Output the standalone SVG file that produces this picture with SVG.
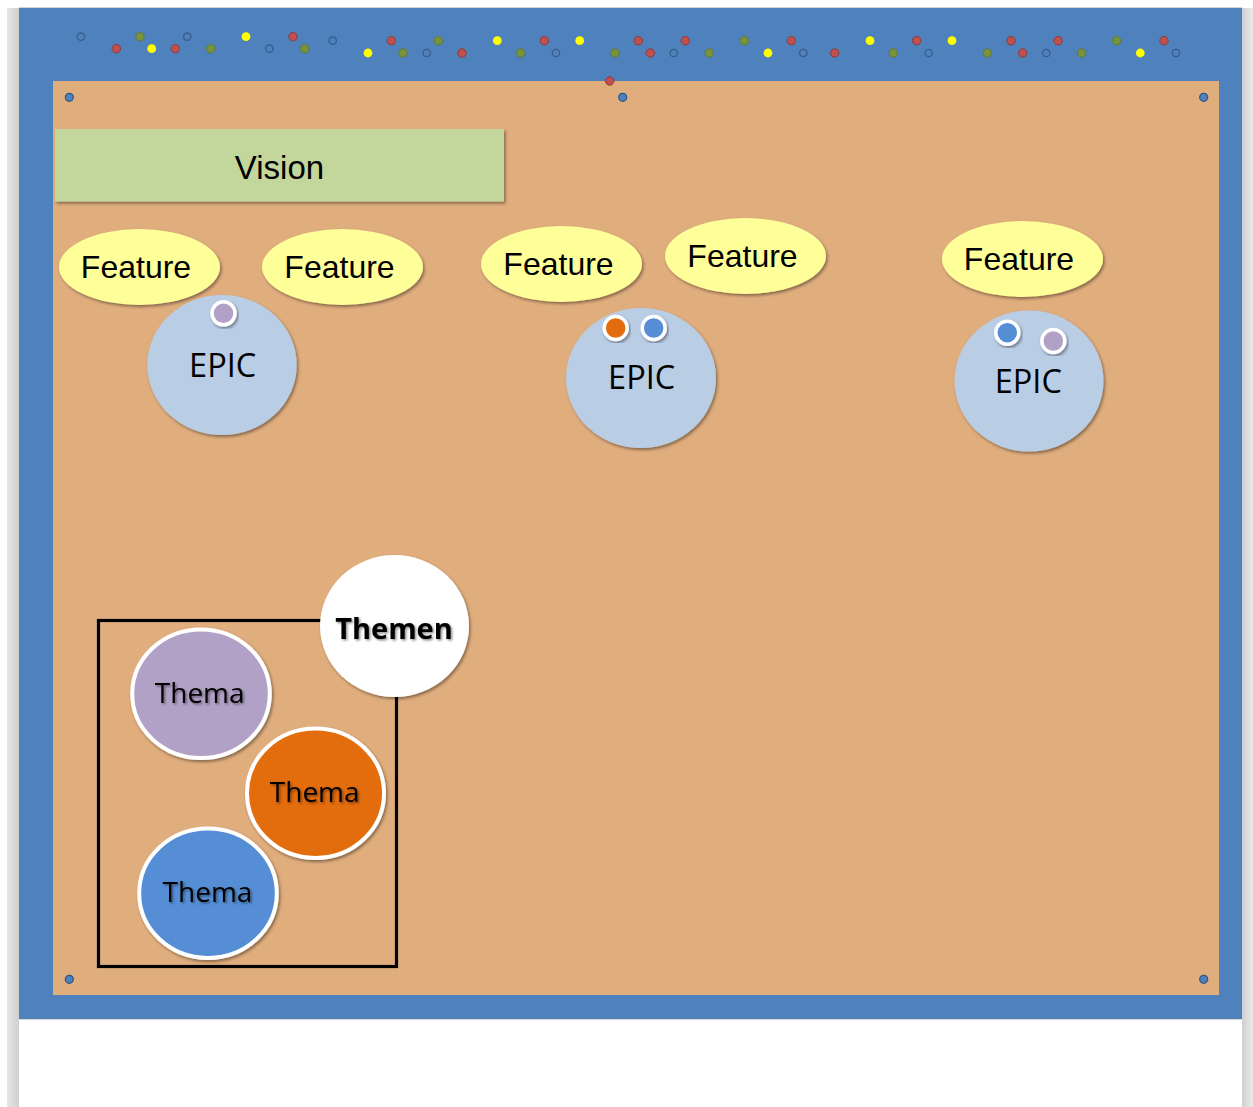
<svg xmlns="http://www.w3.org/2000/svg" width="1253" height="1107" viewBox="0 0 1253 1107">
  <defs>
    <filter id="shadow" x="-10%" y="-10%" width="125%" height="125%">
      <feDropShadow dx="1.5" dy="2" stdDeviation="1.5" flood-color="#000" flood-opacity="0.4"/>
    </filter>
    <filter id="txtshadow" x="-10%" y="-20%" width="125%" height="150%">
      <feDropShadow dx="1.5" dy="1.5" stdDeviation="1" flood-color="#000" flood-opacity="0.45"/>
    </filter>
    <linearGradient id="sideL" x1="0" y1="0" x2="1" y2="0">
      <stop offset="0" stop-color="#e6e6e6"/>
      <stop offset="1" stop-color="#cfcfcf"/>
    </linearGradient>
    <linearGradient id="sideR" x1="0" y1="0" x2="1" y2="0">
      <stop offset="0" stop-color="#cfcfcf"/>
      <stop offset="1" stop-color="#ececec"/>
    </linearGradient>
  </defs>
  <style>
    .lbl { font-family: "Liberation Sans", Arial, sans-serif; fill: #000; text-anchor: middle; }
    .cal { font-family: "Open Sans", "Noto Sans", sans-serif; fill: #000; text-anchor: middle; }
    .feature { fill: #FFFF99; filter: url(#shadow); }
    .epic { fill: #B9CDE5; filter: url(#shadow); }
    .tag { stroke: #fff; stroke-width: 3.5; filter: url(#shadow); }
    .thema { stroke: #fff; stroke-width: 4; filter: url(#shadow); }
    .red { fill: #C0504D; stroke: #8C3A38; stroke-width: 1; }
    .grn { fill: #77933C; stroke: #62792F; stroke-width: 1; }
    .yel { fill: #FFFF00; }
    .opn { fill: none; stroke: #385D8A; stroke-width: 1.3; }
    .pin { fill: #4F81BD; stroke: #2E5683; stroke-width: 1.2; }
  </style>

  <!-- page background and side edges -->
  <rect x="0" y="0" width="1253" height="1107" fill="#ffffff"/>
  <rect x="7" y="8" width="12" height="1099" fill="url(#sideL)"/>
  <rect x="1242" y="8" width="11" height="1099" fill="url(#sideR)"/>
  <line x1="19" y1="7.5" x2="1242" y2="7.5" stroke="#d4d4d4" stroke-width="1"/>

  <!-- frame and cork board -->
  <rect x="19" y="8" width="1223" height="1011" fill="#4F81BD"/>
  <line x1="19" y1="1019.5" x2="1242" y2="1019.5" stroke="#d8d8d8" stroke-width="1"/>
  <rect x="53" y="81" width="1166" height="914" fill="#E0AD7D"/>

  <!-- magnets along the top rail -->
  <g id="rail-dots">
    <circle class="opn" cx="81" cy="36.7" r="3.7"/>
    <circle class="red" cx="116.3" cy="48.7" r="4.2"/>
    <circle class="grn" cx="140" cy="36.7" r="4.2"/>
    <circle class="yel" cx="151.7" cy="48.7" r="4.4"/>
    <circle class="red" cx="175.3" cy="48.7" r="4.2"/>
    <circle class="opn" cx="187.3" cy="36.7" r="3.7"/>
    <circle class="grn" cx="210.7" cy="48.7" r="4.2"/>
    <circle class="yel" cx="246" cy="36.7" r="4.4"/>
    <circle class="opn" cx="269.3" cy="48.7" r="3.7"/>
    <circle class="red" cx="293" cy="36.7" r="4.2"/>
    <circle class="grn" cx="304.7" cy="48.7" r="4.2"/>
    <circle class="opn" cx="332.7" cy="40.7" r="3.7"/>
    <circle class="yel" cx="368" cy="53" r="4.4"/>
    <circle class="red" cx="391.3" cy="40.7" r="4.2"/>
    <circle class="grn" cx="403" cy="53" r="4.2"/>
    <circle class="opn" cx="426.7" cy="53" r="3.7"/>
    <circle class="grn" cx="438.3" cy="40.7" r="4.2"/>
    <circle class="red" cx="462" cy="53" r="4.2"/>
    <circle class="yel" cx="497.3" cy="40.7" r="4.4"/>
    <circle class="grn" cx="520.7" cy="53" r="4.2"/>
    <circle class="red" cx="544.3" cy="40.7" r="4.2"/>
    <circle class="opn" cx="556" cy="53" r="3.7"/>
    <circle class="yel" cx="579.7" cy="40.7" r="4.4"/>
    <circle class="grn" cx="615" cy="53" r="4.2"/>
    <circle class="red" cx="638.3" cy="40.7" r="4.2"/>
    <circle class="red" cx="650.3" cy="53" r="4.2"/>
    <circle class="opn" cx="673.7" cy="53" r="3.7"/>
    <circle class="red" cx="685.3" cy="40.7" r="4.2"/>
    <circle class="grn" cx="709.3" cy="53" r="4.2"/>
    <circle class="grn" cx="744.3" cy="40.7" r="4.2"/>
    <circle class="yel" cx="768" cy="53" r="4.4"/>
    <circle class="red" cx="791.3" cy="40.7" r="4.2"/>
    <circle class="opn" cx="803.3" cy="53" r="3.7"/>
    <circle class="red" cx="834.7" cy="53" r="4.2"/>
    <circle class="yel" cx="870" cy="40.7" r="4.4"/>
    <circle class="grn" cx="893.3" cy="53" r="4.2"/>
    <circle class="red" cx="916.7" cy="40.7" r="4.2"/>
    <circle class="opn" cx="928.7" cy="53" r="3.7"/>
    <circle class="yel" cx="952" cy="40.7" r="4.4"/>
    <circle class="grn" cx="987.3" cy="53" r="4.2"/>
    <circle class="red" cx="1011" cy="40.7" r="4.2"/>
    <circle class="red" cx="1022.7" cy="53" r="4.2"/>
    <circle class="opn" cx="1046.3" cy="53" r="3.7"/>
    <circle class="red" cx="1058" cy="40.7" r="4.2"/>
    <circle class="grn" cx="1081.7" cy="53" r="4.2"/>
    <circle class="grn" cx="1116.7" cy="40.7" r="4.2"/>
    <circle class="yel" cx="1140.3" cy="53" r="4.4"/>
    <circle class="red" cx="1164" cy="40.7" r="4.2"/>
    <circle class="opn" cx="1176" cy="53" r="3.7"/>
    <circle class="red" cx="609.7" cy="81" r="4.2"/>
  </g>

  <!-- pins on the board -->
  <g id="pins">
    <circle class="pin" cx="69.3" cy="97.3" r="4"/>
    <circle class="pin" cx="622.7" cy="97.3" r="4"/>
    <circle class="pin" cx="1203.7" cy="97.3" r="4"/>
    <circle class="pin" cx="69.3" cy="979.3" r="4"/>
    <circle class="pin" cx="1203.7" cy="979.3" r="4"/>
  </g>

  <!-- no connectors between the cards -->
  <g id="connectors"/>

  <g id="vision">
    <rect x="55" y="129" width="449" height="72.5" fill="#C3D69B" filter="url(#shadow)"/>
    <text class="lbl" x="279.5" y="179" font-size="33">Vision</text>
  </g>

  <g id="feature-1">
    <ellipse class="feature" cx="139.5" cy="267" rx="80.5" ry="38"/>
    <text class="lbl" x="136" y="278" font-size="32">Feature</text>
  </g>
  <g id="feature-2">
    <ellipse class="feature" cx="342.5" cy="267" rx="80.5" ry="38"/>
    <text class="lbl" x="339.5" y="278" font-size="32">Feature</text>
  </g>
  <g id="feature-3">
    <ellipse class="feature" cx="561.5" cy="264" rx="80.5" ry="38"/>
    <text class="lbl" x="558.5" y="275" font-size="32">Feature</text>
  </g>
  <g id="feature-4">
    <ellipse class="feature" cx="745.5" cy="256" rx="80.5" ry="38"/>
    <text class="lbl" x="742.5" y="267" font-size="32">Feature</text>
  </g>
  <g id="feature-5">
    <ellipse class="feature" cx="1022.5" cy="259" rx="80.5" ry="38"/>
    <text class="lbl" x="1019" y="270" font-size="32">Feature</text>
  </g>

  <g id="epic-1">
    <ellipse class="epic" cx="222" cy="365" rx="74.7" ry="70"/>
    <circle class="tag" cx="223.5" cy="313.3" r="11.5" fill="#B2A1C7"/>
    <text class="cal" x="222.7" y="377.3" font-size="32.5">EPIC</text>
  </g>
  <g id="epic-2">
    <ellipse class="epic" cx="641" cy="378" rx="75" ry="70"/>
    <circle class="tag" cx="615.7" cy="328" r="11.5" fill="#E36C09"/>
    <circle class="tag" cx="653.7" cy="328" r="11.5" fill="#558ED5"/>
    <text class="cal" x="641.7" y="389.3" font-size="32.5">EPIC</text>
  </g>
  <g id="epic-3">
    <ellipse class="epic" cx="1029" cy="381" rx="74.5" ry="70.5"/>
    <circle class="tag" cx="1007.3" cy="332.7" r="11.5" fill="#558ED5"/>
    <circle class="tag" cx="1053.3" cy="341" r="11.5" fill="#B2A1C7"/>
    <text class="cal" x="1028.3" y="392.7" font-size="32.5">EPIC</text>
  </g>

  <!-- theme area: frame with the theme badges -->
  <g id="themen-frame">
    <rect x="98.5" y="620.5" width="298" height="346" fill="none" stroke="#000" stroke-width="3.2"/>
  </g>
  <g id="themen">
    <ellipse cx="394.5" cy="626" rx="74.5" ry="71" fill="#ffffff" filter="url(#shadow)"/>
    <text class="cal" x="394" y="638.5" font-size="29" font-weight="bold" filter="url(#txtshadow)">Themen</text>
  </g>
  <g id="thema-1">
    <ellipse class="thema" cx="201" cy="693.7" rx="68.8" ry="64.3" fill="#B2A1C7"/>
    <text class="cal" x="199.7" y="703.3" font-size="28" filter="url(#txtshadow)">Thema</text>
  </g>
  <g id="thema-2">
    <ellipse class="thema" cx="315.5" cy="793.3" rx="68.5" ry="64.7" fill="#E36C09"/>
    <text class="cal" x="314.7" y="802.3" font-size="28" filter="url(#txtshadow)">Thema</text>
  </g>
  <g id="thema-3">
    <ellipse class="thema" cx="208" cy="893.3" rx="68.8" ry="64.7" fill="#558ED5"/>
    <text class="cal" x="207.5" y="902.3" font-size="28" filter="url(#txtshadow)">Thema</text>
  </g>
</svg>
